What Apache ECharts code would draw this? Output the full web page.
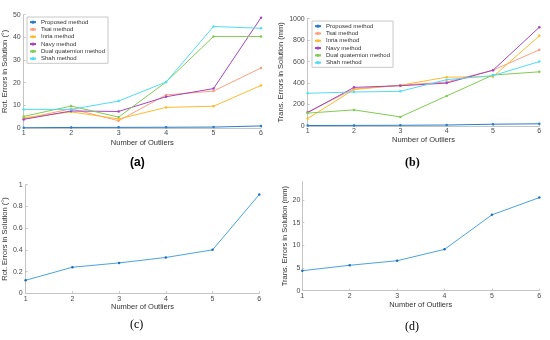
<!DOCTYPE html>
<html>
<head>
<meta charset="utf-8">
<script src="https://cdn.jsdelivr.net/npm/echarts@6/dist/echarts.min.js"></script>
<style>html,body{margin:0;padding:0;background:#fff}#c{width:550px;height:340px}</style>
</head>
<body>
<div id="c"></div>
<script>
const outliers = ['1', '2', '3', '4', '5', '6'];
const methods = ['Proposed method', 'Tsai method', 'Inria method', 'Navy method', 'Dual quaternion method', 'Shah method'];
const colors = ['#2a7cc8', '#ff9f80', '#ffba2e', '#a346bf', '#80cc52', '#52dcf6'];

// (a) rotation errors (deg)
const rotProposed = [0.12, 0.24, 0.28, 0.33, 0.40, 0.91];
const rotTsai = [4.0, 8.5, 3.2, 14.6, 16.3, 26.5];
const rotInria = [4.5, 7.1, 4.0, 9.1, 9.6, 18.8];
const rotNavy = [3.8, 7.5, 7.3, 13.8, 17.4, 48.7];
const rotDual = [5.1, 9.7, 4.8, 20.3, 40.4, 40.4];
const rotShah = [8.2, 8.2, 11.9, 20.3, 44.8, 44.0];

// (b) translation errors (mm)
const transProposed = [4.4, 5.6, 6.6, 9.1, 16.7, 20.5];
const transTsai = [130, 345, 380, 410, 520, 710];
const transInria = [70, 340, 380, 455, 460, 840];
const transNavy = [125, 360, 375, 400, 520, 920];
const transDual = [120, 150, 85, 280, 475, 505];
const transShah = [305, 317, 323, 432, 470, 600];

const rotSets = [rotProposed, rotTsai, rotInria, rotNavy, rotDual, rotShah];
const transSets = [transProposed, transTsai, transInria, transNavy, transDual, transShah];

const yTicksA = [0, 10, 20, 30, 40, 50];
const yTicksB = [0, 200, 400, 600, 800, 1000];
const yTicksC = [0, 0.2, 0.4, 0.6, 0.8, 1];
const yTicksD = [0, 5, 10, 15, 20];

const singleLine = '#4aa3e0';
const singleMarker = '#1f6fb8';
const axisGray = '#c4c4c4';
const labelGray = '#4a4a4a';
const FONT = '"Liberation Sans", Arial, sans-serif';

function xAx(gi, gap) {
  return {
    type: 'category', gridIndex: gi, data: outliers, boundaryGap: false,
    name: 'Number of Outliers', nameLocation: 'middle', nameGap: gap,
    nameTextStyle: { fontFamily: FONT, fontSize: 7.5, color: '#333' },
    axisLine: { lineStyle: { color: axisGray, width: 1 } },
    axisTick: { inside: true, length: 2, lineStyle: { color: axisGray } },
    axisLabel: { fontFamily: FONT, fontSize: 7, color: labelGray, margin: 2 },
    splitLine: { show: false }
  };
}
function yAx(gi, name, min, max, interval, gap, ticks, margin) {
  return {
    type: 'value', gridIndex: gi, min: min, max: max, interval: interval,
    name: name, nameLocation: 'middle', nameGap: gap,
    nameTextStyle: { fontFamily: FONT, fontSize: 7.5, color: '#333' },
    axisLine: { show: true, lineStyle: { color: axisGray, width: 1 } },
    axisTick: { show: true, inside: true, length: 2, lineStyle: { color: axisGray }, customValues: ticks },
    axisLabel: { fontFamily: FONT, fontSize: 7, color: labelGray, margin: margin, customValues: ticks,
                 formatter: v => String(v) },
    splitLine: { show: false }
  };
}

const series = [];
methods.forEach((m, i) => {
  series.push({
    name: m, type: 'line', xAxisIndex: 0, yAxisIndex: 0, data: rotSets[i],
    symbol: 'circle', symbolSize: 2.5, showSymbol: true,
    lineStyle: { width: 1, color: colors[i] }, itemStyle: { color: colors[i] },
    z: 2 + i, animation: false
  });
});
methods.forEach((m, i) => {
  series.push({
    name: m, type: 'line', xAxisIndex: 1, yAxisIndex: 1, data: transSets[i],
    symbol: 'circle', symbolSize: 2.5, showSymbol: true,
    lineStyle: { width: 1, color: colors[i] }, itemStyle: { color: colors[i] },
    z: 2 + i, animation: false
  });
});
series.push({
  name: 'Proposed rot', type: 'line', xAxisIndex: 2, yAxisIndex: 2, data: rotProposed,
  symbol: 'circle', symbolSize: 2.5, lineStyle: { width: 1, color: singleLine },
  itemStyle: { color: singleMarker }, animation: false
});
series.push({
  name: 'Proposed trans', type: 'line', xAxisIndex: 3, yAxisIndex: 3, data: transProposed,
  symbol: 'circle', symbolSize: 2.5, lineStyle: { width: 1, color: singleLine },
  itemStyle: { color: singleMarker }, animation: false
});

const legendBase = {
  orient: 'vertical', data: methods, itemWidth: 6, itemHeight: 4, itemGap: 0,
  padding: [1.5, 3, 1, 2], borderColor: '#c8c8c8', borderWidth: 1, borderRadius: 0,
  backgroundColor: '#fff', selectedMode: false,
  textStyle: { fontFamily: FONT, fontSize: 6, color: '#333', lineHeight: 7.3 }
};

const option = {
  animation: false,
  backgroundColor: '#fff',
  grid: [
    { left: 23, top: 14.7, width: 238, height: 113.3 },
    { left: 307.7, top: 18.7, width: 231.6, height: 107.3 },
    { left: 24, top: 184.7, width: 235.3, height: 108.6 },
    { left: 302.3, top: 181.7, width: 237, height: 109 }
  ],
  xAxis: [xAx(0, 11), xAx(1, 10), xAx(2, 9), xAx(3, 10)],
  yAxis: [
    yAx(0, 'Rot. Errors in Solution (°)', 0, 50, 10, 7, yTicksA, 3),
    yAx(1, 'Trans. Errors in Solution (mm)', 0, 1000, 200, 16, yTicksB, 3),
    yAx(2, 'Rot. Errors in Solution (°)', 0, 1, 0.2, 8, yTicksC, 3),
    yAx(3, 'Trans. Errors in Solution (mm)', 0, 24, 5, 6, yTicksD, 2)
  ],
  legend: [
    Object.assign({ left: 27, top: 17 }, legendBase),
    Object.assign({ left: 312, top: 21 }, legendBase)
  ],
  graphic: [
    { type: 'text', left: 130, top: 157, style: { text: '(a)', font: 'bold 12px "Liberation Sans", Arial, sans-serif', fill: '#000' } },
    { type: 'text', left: 405, top: 157, style: { text: '(b)', font: 'bold 12px "Liberation Serif", "Times New Roman", serif', fill: '#000' } },
    { type: 'text', left: 130, top: 319, style: { text: '(c)', font: '12px "Liberation Serif", "Times New Roman", serif', fill: '#000' } },
    { type: 'text', left: 405, top: 321, style: { text: '(d)', font: '12px "Liberation Serif", "Times New Roman", serif', fill: '#000' } }
  ],
  series: series
};

const chart = echarts.init(document.getElementById('c'), null, { renderer: 'canvas' });
chart.setOption(option);
</script>
</body>
</html>
